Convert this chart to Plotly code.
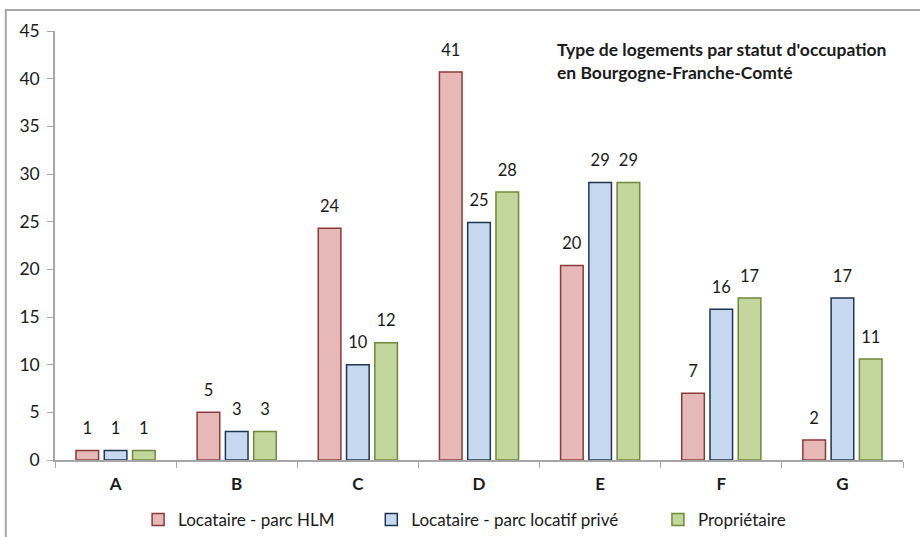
import plotly.graph_objects as go

# Catégories et valeurs (en %)
categories = ["A", "B", "C", "D", "E", "F", "G"]
hlm = [1.0, 5.0, 24.3, 40.7, 20.4, 7.0, 2.1]
prive = [1.0, 3.0, 10.0, 24.9, 29.1, 15.8, 17.0]
proprietaire = [1.0, 3.0, 12.3, 28.1, 29.1, 17.0, 10.6]

series_names = ["Locataire - parc HLM", "Locataire - parc locatif privé", "Propriétaire"]
y_ticks = [0, 5, 10, 15, 20, 25, 30, 35, 40, 45]

fills = ["#E6B9B8", "#C6D9F1", "#C3D69B"]
borders = ["#8C3A38", "#1F3550", "#6F8A3A"]

FONT = "Lato, 'Open Sans', sans-serif"
TXT = "#1a1a1a"

# Une légende par série, pour reproduire l'espacement des entrées
legend_ids = ["legend", "legend2", "legend3"]
legend_x = [0.098, 0.373, 0.711]

fig = go.Figure()
all_series = [hlm, prive, proprietaire]
for i, (name, vals, fc, lc) in enumerate(zip(series_names, all_series, fills, borders)):
    fig.add_trace(go.Bar(
        x=categories, y=vals, name=name, offsetgroup=str(i), legend=legend_ids[i],
        marker=dict(color=fc, line=dict(color=lc, width=1.5)),
    ))

# Étiquettes de valeur, alignées sur les barres de chaque série
for i, vals in enumerate(all_series):
    fig.add_trace(go.Scatter(
        x=categories, y=vals, offsetgroup=str(i), mode="markers+text",
        text=[f"{v:.0f}" for v in vals], textposition="top center",
        textfont=dict(size=16.5, color=TXT, family=FONT),
        marker=dict(size=18, color="rgba(0,0,0,0)"),
        showlegend=False, hoverinfo="skip", cliponaxis=False,
    ))

legend_style = dict(orientation="h", y=-0.14, yanchor="middle", xanchor="left",
                    font=dict(size=17, color=TXT), itemwidth=30, bgcolor="rgba(0,0,0,0)")

fig.update_layout(
    width=920, height=537,
    margin=dict(l=55, r=17, t=31, b=77, autoexpand=False),
    paper_bgcolor="white", plot_bgcolor="white",
    barmode="group", bargap=0.30, bargroupgap=0.2,
    scattermode="group", scattergap=0.30,
    font=dict(family=FONT, size=17, color=TXT),
    showlegend=True,
    legend=dict(x=legend_x[0], **legend_style),
    legend2=dict(x=legend_x[1], **legend_style),
    legend3=dict(x=legend_x[2], **legend_style),
    xaxis=dict(
        showline=True, linecolor="#A6A6A6", linewidth=1.5,
        ticks="outside", tickson="boundaries", ticklen=6, tickcolor="#A6A6A6",
        tickfont=dict(size=17, color=TXT), ticklabelstandoff=8,
        tickvals=categories, ticktext=[f"<b>{c}</b>" for c in categories],
        showgrid=False, zeroline=False,
    ),
    yaxis=dict(
        range=[0, 45], tickvals=y_ticks,
        showline=True, linecolor="#A6A6A6", linewidth=1.5,
        ticks="outside", ticklen=6, tickcolor="#A6A6A6",
        tickfont=dict(size=17.5, color=TXT), ticklabelstandoff=4,
        showgrid=False, zeroline=False,
    ),
    annotations=[dict(
        text="<b>Type de logements par statut d'occupation<br>en Bourgogne-Franche-Comté</b>",
        xref="paper", yref="paper", x=0.590, y=0.987, xanchor="left", yanchor="top",
        align="left", showarrow=False, font=dict(size=17.5, color=TXT),
    )],
    shapes=[dict(
        type="rect", xref="paper", yref="paper",
        x0=-0.058, x1=1.2, y0=-0.4, y1=1.049,
        line=dict(color="#A6A6A6", width=2), fillcolor="rgba(0,0,0,0)", layer="below",
    )],
)

fig.write_html("out.html")
